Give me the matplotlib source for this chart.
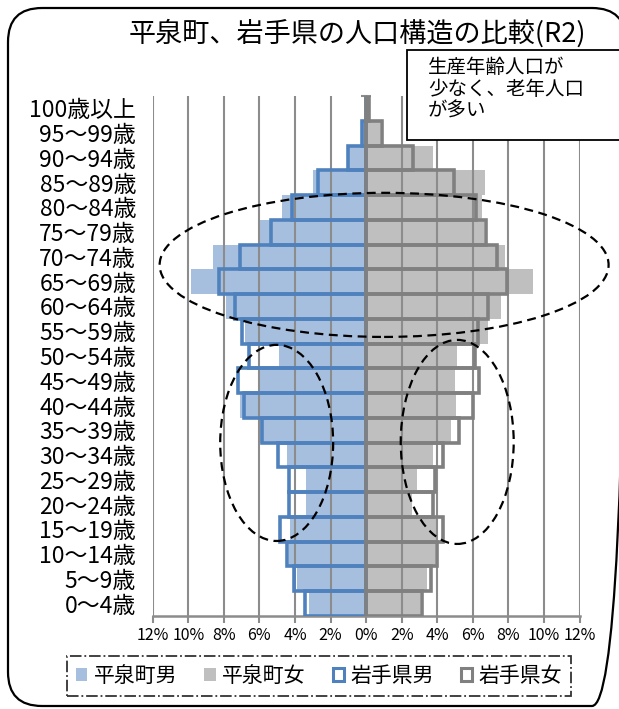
import numpy as np
import matplotlib
matplotlib.use('Agg')
import matplotlib.pyplot as plt
from matplotlib.patches import Ellipse, Rectangle, FancyBboxPatch, Patch

plt.rcParams['font.family'] = ['Noto Sans CJK JP', 'DejaVu Sans']

# age groups, youngest first (bottom of the pyramid)
ages = ['0～4歳', '5～9歳', '10～14歳', '15～19歳', '20～24歳', '25～29歳',
        '30～34歳', '35～39歳', '40～44歳', '45～49歳', '50～54歳', '55～59歳',
        '60～64歳', '65～69歳', '70～74歳', '75～79歳', '80～84歳', '85～89歳',
        '90～94歳', '95～99歳', '100歳以上']

# share of each sex by age group (%)
hira_m = [3.24, 3.90, 4.36, 4.27, 3.39, 3.39, 4.45, 6.05, 7.10, 6.00, 4.90,
          6.80, 7.87, 9.83, 8.60, 6.00, 4.73, 3.00, 0.95, 0.20, 0.05]
hira_f = [3.00, 3.41, 3.88, 3.97, 2.57, 2.85, 3.78, 4.76, 5.06, 5.00, 5.10,
          6.87, 7.57, 9.40, 7.80, 6.60, 6.50, 6.70, 3.74, 0.80, 0.15]
iwate_m = [3.43, 4.03, 4.45, 4.83, 4.36, 4.36, 4.98, 5.86, 6.85, 7.20, 6.60,
           6.98, 7.40, 8.26, 7.10, 5.34, 4.17, 2.68, 1.00, 0.24, 0.03]
iwate_f = [3.13, 3.63, 3.97, 4.34, 3.74, 3.88, 4.34, 5.22, 6.03, 6.37, 6.12,
           6.30, 6.87, 7.90, 7.34, 6.72, 6.18, 4.96, 2.66, 0.88, 0.15]

series_names = ['平泉町男', '平泉町女', '岩手県男', '岩手県女']
xticks = [-12, -10, -8, -6, -4, -2, 0, 2, 4, 6, 8, 10, 12]

title = '平泉町、岩手県の人口構造の比較(R2)'
note = '生産年齢人口が\n少なく、老年人口\nが多い'

c_mfill = '#a7bfde'
c_ffill = '#bfbfbf'
c_mline = '#4f81bd'
c_fline = '#808080'
c_axis = '#8c8c8c'

W, H = 619, 709


def fx(x):
    return x / W


def fy(y):
    return 1 - y / H


fig = plt.figure(figsize=(W / 100, H / 100), dpi=100)

# full-figure layer in pixel units for the rounded frame and the note box
bg = fig.add_axes([0, 0, 1, 1], zorder=-1)
bg.set_xlim(0, W)
bg.set_ylim(H, 0)
bg.axis('off')
bg.add_patch(FancyBboxPatch((8, 8), 618, 698,
                            boxstyle='round,pad=0,rounding_size=34',
                            fill=False, edgecolor='black', linewidth=1.6,
                            clip_on=True))

ax = fig.add_axes([fx(152.7), fy(616), fx(579.6) - fx(152.7), fy(96) - fy(616)])

y = np.arange(len(ages))
ax.barh(y, -np.array(hira_m), height=1.0, color=c_mfill, zorder=1)
ax.barh(y, hira_f, height=1.0, color=c_ffill, zorder=1)
ax.barh(y, -np.array(iwate_m), height=1.0, fill=False, edgecolor=c_mline,
        linewidth=2.6, zorder=3)
ax.barh(y, iwate_f, height=1.0, fill=False, edgecolor=c_fline,
        linewidth=2.6, zorder=3)

ax.set_xlim(-12, 12)
ax.set_ylim(-0.5, len(ages) - 0.5)
ax.set_xticks(xticks, [f'{abs(v)}%' for v in xticks], fontsize=11.5)
ax.set_yticks(y, ages, fontsize=16.5)
ax.tick_params(axis='y', length=0, pad=12)
ax.tick_params(axis='x', direction='out', length=5, width=1.5, color=c_axis, pad=3)
ax.xaxis.grid(True, color=c_axis, linewidth=1.5)
ax.set_axisbelow(False)
for side in ['left', 'right', 'top']:
    ax.spines[side].set_visible(False)
ax.spines['bottom'].set_color(c_axis)
ax.spines['bottom'].set_linewidth(1.8)

# vertical axis in the middle, with ticks between age groups
mid = ax.secondary_yaxis(0.5)
mid.set_yticks(np.arange(-0.5, len(ages)))
mid.set_yticklabels([])
mid.tick_params(direction='inout', length=7, width=1.5, color=c_axis)
mid.spines['left'].set_color(c_axis)
mid.spines['left'].set_linewidth(1.8)

# dashed rings around the highlighted age groups
for cx, cy, w, h in [(1.01, 13.68, 25.24, 5.82), (-5.03, 6.49, 6.35, 7.92),
                     (5.12, 6.53, 6.35, 8.24)]:
    ax.add_patch(Ellipse((cx, cy), w, h, fill=False, edgecolor='black',
                         linewidth=1.6, linestyle=(0, (4, 2.5)), zorder=5,
                         clip_on=False))

fig.text(fx(357), fy(34), title, fontsize=19.5, ha='center', va='center')

# note box runs off the right edge of the figure
box = Rectangle((407, 50), 300, 90, facecolor='white', edgecolor='black',
                linewidth=1.3, zorder=6, clip_on=True)
fig.add_artist(box)
box.set_transform(bg.transData)
box.set_clip_box(bg.bbox)
fig.text(fx(428), fy(57), note, fontsize=14, ha='left', va='top',
         linespacing=1.05, zorder=7)

handles = [Patch(facecolor=c_mfill, edgecolor='none'),
           Patch(facecolor=c_ffill, edgecolor='none'),
           Patch(facecolor='white', edgecolor=c_mline, linewidth=2.2),
           Patch(facecolor='white', edgecolor=c_fline, linewidth=2.2)]
leg = fig.legend(handles, series_names, loc='center',
                 bbox_to_anchor=(fx(319), fy(676)), ncol=4, fontsize=15,
                 frameon=True, fancybox=False, edgecolor='black',
                 handlelength=0.55, handleheight=0.55, handletextpad=0.3,
                 columnspacing=1.3, borderpad=0.45)
leg.get_frame().set_linestyle('-.')
leg.get_frame().set_linewidth(1.3)

fig.savefig('out.png', dpi=100)
